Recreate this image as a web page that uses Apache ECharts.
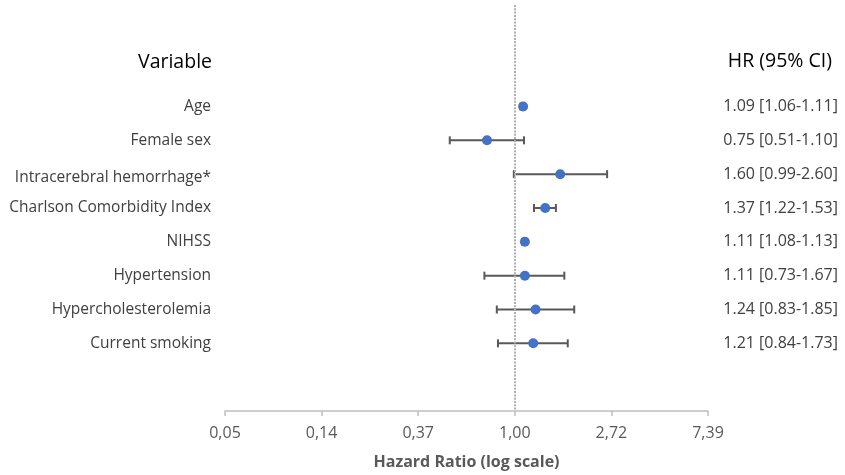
<!DOCTYPE html>
<html>
<head>
<meta charset="utf-8">
<script src="https://cdn.jsdelivr.net/npm/echarts@6/dist/echarts.min.js"></script>
<style>html,body{margin:0;padding:0;background:#fff}#c{width:845px;height:475px}</style>
</head>
<body>
<div id="c"></div>
<script>
const variables = ['Age','Female sex','Intracerebral hemorrhage*','Charlson Comorbidity Index','NIHSS','Hypertension','Hypercholesterolemia','Current smoking'];
const hr = [1.09, 0.75, 1.60, 1.37, 1.11, 1.11, 1.24, 1.21];
const ciLow = [1.06, 0.51, 0.99, 1.22, 1.08, 0.73, 0.83, 0.84];
const ciHigh = [1.11, 1.10, 2.60, 1.53, 1.13, 1.67, 1.85, 1.73];
const xTickLabels = ['0,05','0,14','0,37','1,00','2,72','7,39'];

const chart = echarts.init(document.getElementById('c'));
const FONT = '"Open Sans", sans-serif';
const hrText = hr.map((v,i)=> v.toFixed(2)+' ['+ciLow[i].toFixed(2)+'-'+ciHigh[i].toFixed(2)+']');

chart.setOption({
  animation: false,
  grid: {left: 225, right: 137, top: 5, bottom: 62},
  graphic: [
    {type:'text', right: 633, top: 52, style:{text:'Variable', font:'19.5px '+FONT, fill:'#000', textAlign:'right'}},
    {type:'text', right: 13, top: 51, style:{text:'HR (95% CI)', font:'19.5px '+FONT, fill:'#000', textAlign:'right'}}
  ],
  xAxis: {
    type: 'value', min: -3, max: 2, interval: 1,
    axisLine: {show: true, onZero: false, lineStyle: {color: '#bfbfbf', width: 1.5}},
    axisTick: {show: true, inside: false, length: 5, lineStyle: {color: '#bfbfbf', width: 1.5}},
    splitLine: {show: false},
    axisLabel: {margin: 14, color: '#595959', fontSize: 16, fontFamily: FONT,
      formatter: v => xTickLabels[Math.round(v) + 3]},
    name: 'Hazard Ratio (log scale)', nameLocation: 'middle', nameGap: 43,
    nameTextStyle: {color: '#595959', fontSize: 16, fontWeight: 'bold', fontFamily: FONT}
  },
  yAxis: [
    {type: 'value', inverse: true, min: -2, max: 10, interval: 1,
     axisLine: {show: false}, axisTick: {show: false}, splitLine: {show: false},
     axisLabel: {margin: 14, color: '#404040', fontSize: 15.5, fontFamily: FONT,
       formatter: v => {
         const n = variables[v-1];
         if (!n) return '';
         return v === 3 ? '{d|'+n+'}' : n;
       },
       rich: {d: {padding: [6,0,0,0], color:'#404040', fontSize:15.5, fontFamily: FONT}}}},
    {type: 'value', inverse: true, min: -2, max: 10, interval: 1, position: 'right',
     axisLine: {show: false}, axisTick: {show: false}, splitLine: {show: false},
     axisLabel: {margin: 130, align: 'right', color: '#404040', fontSize: 16, fontFamily: FONT,
       formatter: v => hrText[v-1] || ''}}
  ],
  series: [
    {
      type: 'custom',
      data: hr.map((v,i)=>[Math.log(ciLow[i]), Math.log(ciHigh[i]), i+1]),
      encode: {x: [0,1], y: 2},
      z: 2,
      renderItem: (params, api) => {
        const a = api.coord([api.value(0), api.value(2)]);
        const b = api.coord([api.value(1), api.value(2)]);
        const st = {stroke: '#595959', lineWidth: 2};
        return {type: 'group', children: [
          {type:'line', shape:{x1:a[0], y1:a[1], x2:b[0], y2:b[1]}, style: st},
          {type:'line', shape:{x1:a[0], y1:a[1]-4, x2:a[0], y2:a[1]+4}, style: st},
          {type:'line', shape:{x1:b[0], y1:b[1]-4, x2:b[0], y2:b[1]+4}, style: st}
        ]};
      }
    },
    {
      type: 'scatter', z: 3,
      data: hr.map((v,i)=>[Math.log(v), i+1]),
      symbolSize: 10,
      itemStyle: {color: '#4472C4', opacity: 1},
      markLine: {
        silent: true, symbol: 'none', label: {show: false},
        lineStyle: {color: '#b0b0b0', type: [2,1.3], width: 2},
        data: [{xAxis: 0}]
      }
    }
  ]
});
</script>
</body>
</html>
